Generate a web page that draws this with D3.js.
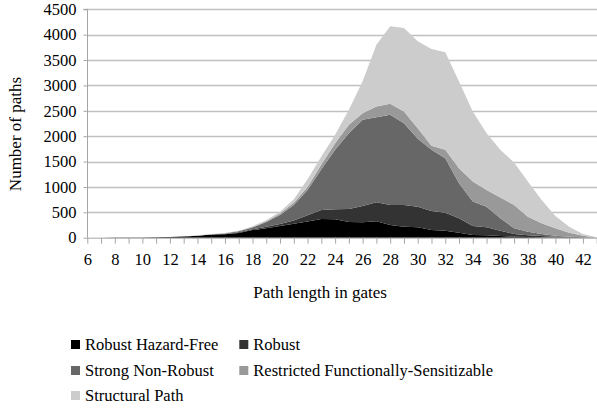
<!DOCTYPE html>
<html><head><meta charset="utf-8">
<script src="https://cdn.jsdelivr.net/npm/d3@7"></script>
<style>
html,body{margin:0;padding:0;background:#fff;}
svg text{font-family:"Liberation Serif","Times New Roman",Times,"Nimbus Roman","DejaVu Serif",serif !important;fill:#000;}
</style></head>
<body><svg id="c" width="597" height="408"></svg>
<script>
const categories = d3.range(6, 44).map(String);
const seriesNames = ["Robust Hazard-Free","Robust","Strong Non-Robust","Restricted Functionally-Sensitizable","Structural Path"];
const colors = ["#000000","#333333","#676767","#999999","#cccccc"];
// individual series values per path length 6..43
const robustHazardFree = [0,1,2,3,5,8,12,22,40,62,70,95,150,185,230,276,320,368,362,309,303,322,250,217,204,151,138,99,53,46,33,20,13,8,5,3,1,0];
const robust =           [0,0,0,0,0,0,0,0,0,0,5,10,15,30,40,64,120,178,197,257,322,375,395,428,408,375,355,283,177,158,105,52,33,25,15,10,6,0];
const strongNonRobust =  [0,0,0,0,0,0,0,0,0,0,10,20,35,95,177,305,501,803,1172,1494,1698,1678,1776,1612,1338,1205,1073,690,481,408,244,112,72,39,20,7,3,0];
const restrictedFS =     [0,0,0,0,0,0,0,0,0,0,3,5,10,15,28,45,59,91,131,164,131,211,218,230,208,79,165,297,394,329,408,461,297,211,144,79,30,5];
const structuralPath =   [0,0,0,0,0,0,1,4,6,10,4,8,15,20,38,70,150,159,165,296,626,1217,1526,1645,1711,1908,1921,1710,1382,1119,941,835,690,461,244,118,32,5];
const yTicks = [0,500,1000,1500,2000,2500,3000,3500,4000,4500];
const xTickLabels = d3.range(6, 43, 2).map(String);

const svg = d3.select("#c");
const x = d3.scalePoint().domain(categories).range([87.3, 596.7]);
const y = d3.scaleLinear().domain([0, 4500]).range([237.7, 9.3]);

// gridlines
svg.append("g").selectAll("line").data(yTicks.filter(d => d > 0)).join("line")
  .attr("x1", 87.3).attr("x2", 597)
  .attr("y1", d => Math.round(y(d)) + 0.5).attr("y2", d => Math.round(y(d)) + 0.5)
  .attr("stroke", "#c0c0c0").attr("stroke-width", 1.3);

const rows = categories.map((c, i) => ({
  cat: c,
  [seriesNames[0]]: robustHazardFree[i],
  [seriesNames[1]]: robust[i],
  [seriesNames[2]]: strongNonRobust[i],
  [seriesNames[3]]: restrictedFS[i],
  [seriesNames[4]]: structuralPath[i]
}));
const stacked = d3.stack().keys(seriesNames)(rows);
const area = d3.area().x(d => x(d.data.cat)).y0(d => y(d[0])).y1(d => y(d[1]));
svg.append("g").selectAll("path").data(stacked).join("path")
  .attr("d", area).attr("fill", (d, i) => colors[i]);

// y axis
const yAxis = svg.append("g").attr("transform", "translate(87.5,0)")
  .call(d3.axisLeft(y).tickValues(yTicks).tickSize(4).tickPadding(7).tickFormat(d3.format("d")));
yAxis.attr("font-family", null);
yAxis.select(".domain").attr("stroke", "#a6a6a6").attr("d", `M-4,${y(4500)}H0V${y(0)}`);
yAxis.selectAll(".tick line").attr("stroke", "#a6a6a6");
yAxis.selectAll("text").attr("font-size", "16.5px");

// x axis
const xAxis = svg.append("g").attr("transform", "translate(0,237.7)")
  .call(d3.axisBottom(x).tickSize(6).tickPadding(10).tickFormat(d => xTickLabels.includes(d) ? d : ""));
xAxis.attr("font-family", null);
xAxis.select(".domain").attr("stroke", "#a6a6a6").attr("d", `M87.3,0.5H597`);
xAxis.selectAll(".tick line").attr("stroke", "#a6a6a6");
xAxis.selectAll("text").attr("font-size", "16.5px");

// titles
svg.append("text").attr("x", 320).attr("y", 298).attr("text-anchor", "middle")
  .attr("font-size", "17px").text("Path length in gates");
svg.append("text").attr("transform", "translate(21,134) rotate(-90)").attr("text-anchor", "middle")
  .attr("font-size", "17px").text("Number of paths");

// legend
const legendPos = [[71,340],[239.3,340],[71,366],[239.3,366],[71,391]];
const lg = svg.append("g").selectAll("g").data(seriesNames).join("g")
  .attr("transform", (d, i) => `translate(${legendPos[i][0]},${legendPos[i][1]})`);
lg.append("rect").attr("width", 9).attr("height", 9).attr("fill", (d, i) => colors[i]);
lg.append("text").attr("x", 14).attr("y", 9.5).attr("font-size", "16.5px").text(d => d);
</script></body></html>
